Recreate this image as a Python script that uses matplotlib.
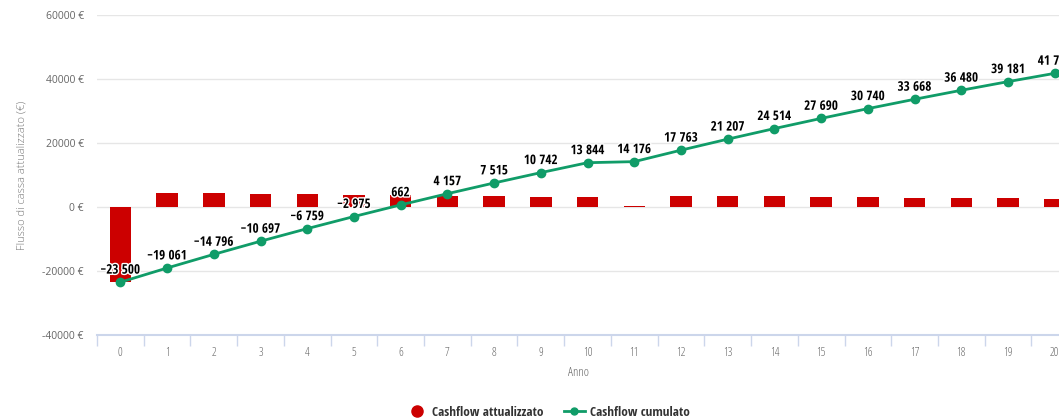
import matplotlib
matplotlib.use("Agg")
import matplotlib.pyplot as plt
import matplotlib.patheffects as pe
from matplotlib.lines import Line2D

# Anni e flussi di cassa (euro)
anni = list(range(0, 21))
cashflow_attualizzato = [-23500, 4439, 4265, 4099, 3938, 3784, 3637, 3495, 3358, 3227,
                         3102, 332, 3587, 3444, 3307, 3176, 3050, 2928, 2812, 2701, 2595]
cashflow_cumulato = [-23500, -19061, -14796, -10697, -6759, -2975, 662, 4157, 7515, 10742,
                     13844, 14176, 17763, 21207, 24514, 27690, 30740, 33668, 36480, 39181, 41776]
y_ticks = [-40000, -20000, 0, 20000, 40000, 60000]

ROSSO = "#cc0000"
VERDE = "#109c68"
GRIGIO = "#666666"
ASSE = "#ccd6eb"

cond = ["Open Sans Condensed", "DejaVu Sans"]
sans = ["Open Sans", "DejaVu Sans"]

fig = plt.figure(figsize=(10.59, 4.2), dpi=100)
ax = fig.add_axes([97 / 1059, 1 - 335 / 420, 1 - 97 / 1059, 320 / 420])

ax.bar(anni, cashflow_attualizzato, width=0.46, color=ROSSO, zorder=2)
ax.plot(anni, cashflow_cumulato, color=VERDE, lw=2, marker="o", ms=6, zorder=3,
        clip_on=False)

for x, v in zip(anni, cashflow_cumulato):
    testo = f"{v:,}".replace(",", " ").replace("-", "\u2212")
    ax.annotate(testo, (x, v), xytext=(0, 4), textcoords="offset points",
                ha="center", va="bottom", fontsize=9.5, fontweight="bold",
                family=cond, color="black", zorder=5, annotation_clip=False,
                path_effects=[pe.withStroke(linewidth=2, foreground="white")])

ax.set_yticks(y_ticks)
ax.set_yticklabels([f"{t} €" for t in y_ticks], fontsize=7.5, color=GRIGIO, family=sans)
ax.tick_params(axis="y", length=0, pad=9.5)
ax.grid(axis="y", color="#e6e6e6", lw=1, zorder=0)
ax.set_axisbelow(True)

ax.set_xticks(anni)
ax.set_xticklabels([str(a) for a in anni], fontsize=8.5, color=GRIGIO, family=sans,
                   fontstretch="condensed", fontweight=300)
ax.set_xticks([a - 0.5 for a in anni] + [20.5], minor=True)
ax.tick_params(axis="x", which="major", length=0, pad=8)
ax.tick_params(axis="x", which="minor", length=8, color=ASSE, width=1)

ax.set_ylim(-40000, 60000)
ax.set_xlim(-0.5, 20.09)

for s in ("left", "top", "right"):
    ax.spines[s].set_visible(False)
ax.spines["bottom"].set_color(ASSE)
ax.spines["bottom"].set_linewidth(1.5)

ax.set_xlabel("Anno", fontsize=9, color=GRIGIO, family=sans, fontstretch="condensed",
              fontweight=300, labelpad=5)
fig.text(22 / 1059, 1 - 175 / 420, "Flusso di cassa attualizzato (€)", rotation=90,
         ha="center", va="center", fontsize=8, color="#777777", family=sans,
         fontweight="light")

handles = [
    Line2D([], [], color=ROSSO, marker="o", ls="none", ms=8),
    Line2D([], [], color=VERDE, marker="o", lw=2, ms=5),
]
fig.legend(handles, ["Cashflow attualizzato", "Cashflow cumulato"],
           loc="center", bbox_to_anchor=(548 / 1059, 1 - 412 / 420), ncol=2,
           frameon=False, prop={"family": cond, "weight": "bold", "size": 9.5},
           labelcolor="#333333", handlelength=1.6, columnspacing=1.5,
           handletextpad=0.4)

fig.savefig("out.png", dpi=100)
